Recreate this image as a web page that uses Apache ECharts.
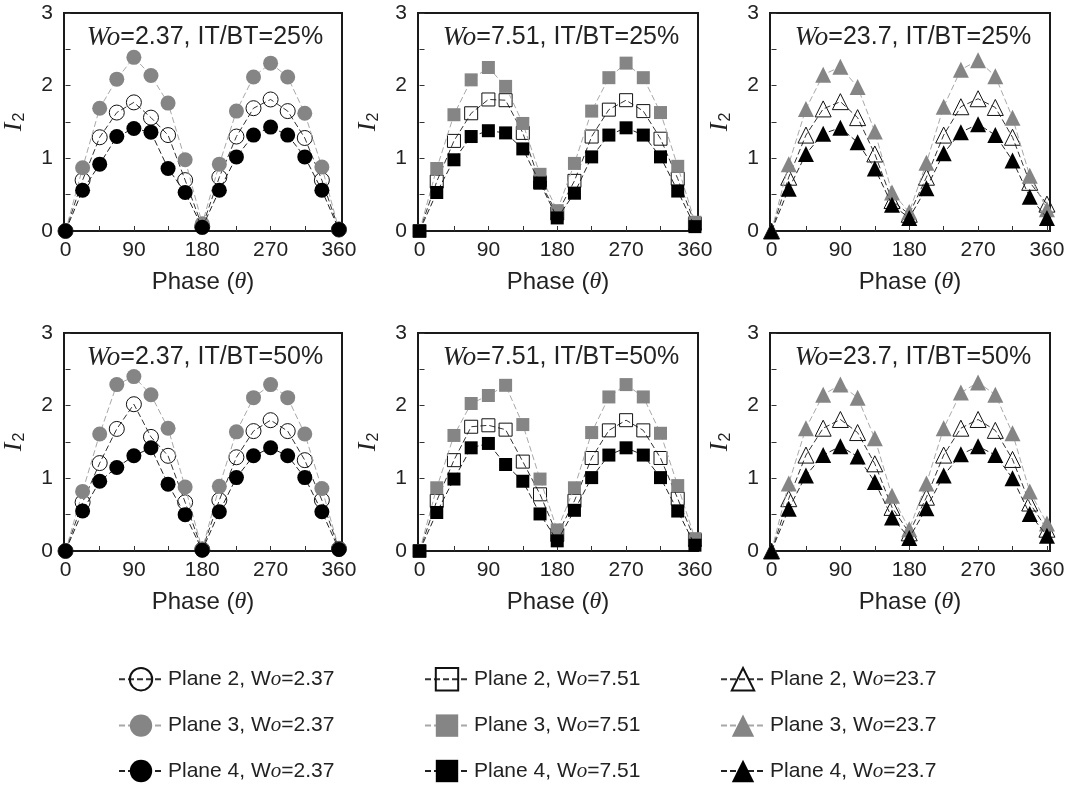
<!DOCTYPE html>
<html>
<head>
<meta charset="utf-8">
<script src="https://cdn.jsdelivr.net/npm/echarts@6/dist/echarts.min.js"></script>
<style>
  html, body { margin: 0; padding: 0; background: #fff; }
  #chart { width: 1071px; height: 788px; }
</style>
</head>
<body>
<div id="chart"></div>
<script>
// phase angle of every measured point (deg)
const phase = [0, 22.5, 45, 67.5, 90, 112.5, 135, 157.5, 180, 202.5, 225, 247.5, 270, 292.5, 315, 337.5, 360];
const xLabelValues = [0, 90, 180, 270, 360];
const xTickValues = [0, 45, 90, 135, 180, 225, 270, 315, 360];
const womersley = ['2.37', '7.51', '23.7'];
const itbt = ['25%', '50%'];
const planes = ['Plane 2', 'Plane 3', 'Plane 4'];

// IT/BT = 25%
const p2_237_25 = [0, 0.70, 1.29, 1.63, 1.77, 1.56, 1.32, 0.70, 0.06, 0.74, 1.30, 1.69, 1.81, 1.65, 1.28, 0.70, 0.02];
const p3_237_25 = [0, 0.87, 1.69, 2.09, 2.39, 2.14, 1.76, 0.98, 0.10, 0.92, 1.65, 2.12, 2.31, 2.12, 1.62, 0.88, 0.02];
const p4_237_25 = [0, 0.56, 0.92, 1.30, 1.41, 1.36, 0.86, 0.53, 0.05, 0.56, 1.02, 1.32, 1.43, 1.32, 1.02, 0.56, 0.02];

const p2_751_25 = [0, 0.68, 1.24, 1.62, 1.81, 1.80, 1.35, 0.67, 0.24, 0.69, 1.30, 1.67, 1.80, 1.65, 1.27, 0.72, 0.10];
const p3_751_25 = [0, 0.86, 1.60, 2.08, 2.25, 1.99, 1.48, 0.78, 0.28, 0.93, 1.65, 2.11, 2.31, 2.11, 1.63, 0.89, 0.12];
const p4_751_25 = [0, 0.53, 0.98, 1.30, 1.38, 1.35, 1.13, 0.66, 0.18, 0.52, 1.02, 1.32, 1.42, 1.32, 1.02, 0.55, 0.06];

const p2_237x_25 = [0, 0.74, 1.32, 1.68, 1.78, 1.56, 1.06, 0.42, 0.23, 0.74, 1.32, 1.71, 1.82, 1.70, 1.29, 0.67, 0.37];
const p3_237x_25 = [0, 0.92, 1.68, 2.15, 2.26, 1.98, 1.37, 0.53, 0.26, 0.94, 1.71, 2.22, 2.35, 2.13, 1.56, 0.76, 0.30];
const p4_237x_25 = [0, 0.58, 1.06, 1.34, 1.42, 1.22, 0.86, 0.36, 0.18, 0.59, 1.07, 1.36, 1.47, 1.32, 0.97, 0.47, 0.18];

// IT/BT = 50%
const p2_237_50 = [0, 0.67, 1.21, 1.68, 2.02, 1.57, 1.31, 0.67, 0.02, 0.70, 1.29, 1.65, 1.80, 1.65, 1.25, 0.70, 0.03];
const p3_237_50 = [0, 0.82, 1.61, 2.29, 2.40, 2.15, 1.69, 0.88, 0.02, 0.89, 1.64, 2.11, 2.29, 2.11, 1.61, 0.86, 0.03];
const p4_237_50 = [0, 0.55, 0.96, 1.15, 1.31, 1.42, 0.92, 0.50, 0.01, 0.54, 1.01, 1.31, 1.42, 1.31, 1.01, 0.54, 0.02];

const p2_751_50 = [0, 0.69, 1.25, 1.71, 1.73, 1.67, 1.23, 0.78, 0.22, 0.69, 1.28, 1.66, 1.80, 1.66, 1.28, 0.72, 0.15];
const p3_751_50 = [0, 0.87, 1.59, 2.03, 2.14, 2.28, 1.74, 0.99, 0.29, 0.87, 1.63, 2.12, 2.29, 2.12, 1.62, 0.90, 0.17];
const p4_751_50 = [0, 0.53, 0.99, 1.42, 1.48, 1.19, 0.96, 0.51, 0.14, 0.56, 1.01, 1.32, 1.42, 1.32, 1.01, 0.55, 0.08];

const p2_237x_50 = [0, 0.72, 1.32, 1.69, 1.81, 1.63, 1.20, 0.60, 0.25, 0.74, 1.32, 1.69, 1.81, 1.66, 1.26, 0.66, 0.30];
const p3_237x_50 = [0, 0.93, 1.69, 2.15, 2.29, 2.11, 1.55, 0.76, 0.30, 0.93, 1.69, 2.18, 2.32, 2.15, 1.62, 0.82, 0.38];
const p4_237x_50 = [0, 0.58, 1.04, 1.32, 1.44, 1.30, 0.95, 0.46, 0.18, 0.59, 1.04, 1.33, 1.44, 1.32, 1.00, 0.51, 0.21];

// panels in reading order: row = IT/BT, column = Wo
const panelData = [
  [p2_237_25, p3_237_25, p4_237_25],
  [p2_751_25, p3_751_25, p4_751_25],
  [p2_237x_25, p3_237x_25, p4_237x_25],
  [p2_237_50, p3_237_50, p4_237_50],
  [p2_751_50, p3_751_50, p4_751_50],
  [p2_237x_50, p3_237x_50, p4_237x_50]
];

const colLeft = [62, 418, 770];
const rowTop = [13, 333];
const gridW = 280, gridH = 218;
const sans = 'Liberation Sans, Arial, sans-serif';
const serif = 'Liberation Serif, Times New Roman, serif';

const symbols = ['circle', 'rect', 'triangle'];
const symbolSizes = [15, 13, 16];
const planeStyle = [
  { fill: 'rgba(255,255,255,0)', border: '#111', borderWidth: 1, line: '#333' },
  { fill: '#858585', border: '#858585', borderWidth: 0, line: '#a8a8a8' },
  { fill: '#000', border: '#000', borderWidth: 0, line: '#222' }
];

const chart = echarts.init(document.getElementById('chart'));

const grids = [], xAxes = [], yAxes = [], series = [], titles = [];
panelData.forEach((rows, k) => {
  const col = k % 3, row = Math.floor(k / 3);
  const wo = womersley[col];
  grids.push({
    left: colLeft[col], top: rowTop[row], width: gridW, height: gridH,
    show: true, borderColor: '#1a1a1a', borderWidth: 2, backgroundColor: 'transparent'
  });
  xAxes.push({
    gridIndex: k, type: 'value', min: -2, max: 364,
    name: 'Phase ({t|θ})', nameLocation: 'middle', nameGap: 39,
    nameTextStyle: {
      fontFamily: sans, fontSize: 24, color: '#222',
      rich: { t: { fontFamily: serif, fontStyle: 'italic', fontSize: 24, color: '#222' } }
    },
    axisLine: { show: false },
    axisTick: { inside: true, length: 5, customValues: xTickValues, lineStyle: { color: '#333' } },
    axisLabel: { customValues: xLabelValues, fontFamily: sans, fontSize: 21, color: '#222', margin: 9 },
    splitLine: { show: false }
  });
  yAxes.push({
    gridIndex: k, type: 'value', min: 0, max: 3, interval: 1,
    name: '{i|I}{s|2}', nameLocation: 'middle', nameGap: 36, nameRotate: 90,
    nameTextStyle: {
      rich: {
        i: { fontFamily: serif, fontStyle: 'italic', fontSize: 26, color: '#222' },
        s: { fontFamily: sans, fontSize: 16, color: '#222', padding: [12, 0, 0, 1] }
      }
    },
    axisLine: { show: false },
    axisTick: { inside: true, length: 5, lineStyle: { color: '#333' } },
    minorTick: { show: true, splitNumber: 2, length: 5, lineStyle: { color: '#333' } },
    axisLabel: { fontFamily: sans, fontSize: 21, color: '#222', margin: 11 },
    splitLine: { show: false }
  });
  titles.push({
    left: colLeft[col] + gridW / 2 - 2, top: rowTop[row] + 6, textAlign: 'center',
    text: '{it|Wo}=' + wo + ', IT/BT=' + itbt[row],
    textStyle: {
      fontFamily: sans, fontSize: 25, fontWeight: 'normal', color: '#222',
      rich: { it: { fontFamily: serif, fontStyle: 'italic', fontSize: 27, color: '#222' } }
    }
  });
  rows.forEach((vals, p) => {
    const st = planeStyle[p];
    series.push({
      name: planes[p] + ', Wo=' + wo,
      type: 'line', xAxisIndex: k, yAxisIndex: k,
      data: phase.map((x, i) => [x, vals[i]]),
      symbol: symbols[col], symbolSize: symbolSizes[col],
      itemStyle: { color: st.fill, borderColor: st.border, borderWidth: st.borderWidth, opacity: 1 },
      lineStyle: { color: st.line, width: 1, type: [6, 3] },
      emphasis: { disabled: true },
      animation: false, clip: false, z: 2 + p
    });
  });
});

const legends = womersley.map((wo, col) => ({
  orient: 'vertical',
  left: [113, 419, 715][col], top: 662,
  itemWidth: 44, itemHeight: 28, itemGap: 23,
  data: planes.map(pl => pl + ', Wo=' + wo),
  formatter: n => n.replace('Wo', 'W{o|o}'),
  textStyle: {
    fontFamily: sans, fontSize: 21, color: '#222',
    rich: { o: { fontFamily: serif, fontStyle: 'italic', fontSize: 21, color: '#222' } }
  },
  selectedMode: false
}));

chart.setOption({
  backgroundColor: '#fff',
  animation: false,
  title: titles,
  legend: legends,
  grid: grids,
  xAxis: xAxes,
  yAxis: yAxes,
  series: series
});
</script>
</body>
</html>
